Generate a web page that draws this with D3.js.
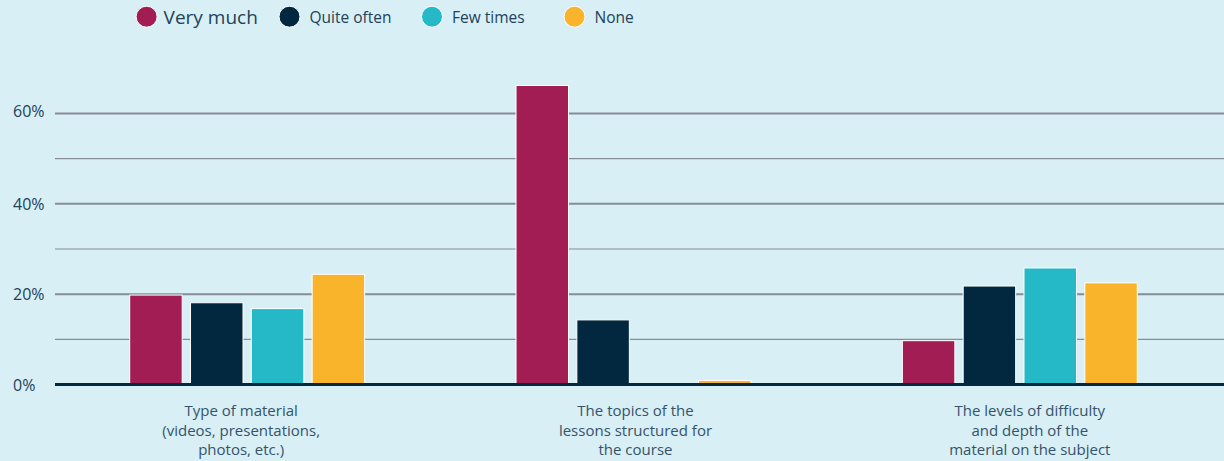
<!DOCTYPE html>
<html><head><meta charset="utf-8">
<script src="https://cdn.jsdelivr.net/npm/d3@7"></script>
<style>
html,body{margin:0;padding:0;background:#d8eff6;}
svg{display:block;font-family:"Open Sans","Lato",sans-serif;}
</style></head>
<body><svg id="c" width="1224" height="461"></svg>
<script>
const categories = [
  ["Type of material","(videos, presentations,","photos, etc.)"],
  ["The topics of the","lessons structured for","the course"],
  ["The levels of difficulty","and depth of the","material on the subject"]
];
const seriesNames = ["Very much","Quite often","Few times","None"];
const seriesColors = ["#a21d54","#02283f","#25b9c7","#f9b42c"];
const veryMuch   = [19.8, 66.2, 9.7];
const quiteOften = [18.1, 14.3, 21.8];
const fewTimes   = [16.8, 0, 25.8];
const none       = [24.4, 0.9, 22.5];
const yTicks = [0, 20, 40, 60];
const yMinor = [10, 30, 50];

const series = [veryMuch, quiteOften, fewTimes, none];
const svg = d3.select("#c");
const left = 55, right = 1224;
const y = d3.scaleLinear().domain([0, 60]).range([384.5, 113.5]);

const catIdx = categories.map((d,i)=>i);
const xBars = d3.scaleBand().domain(catIdx).range([54, 1213]);
const xLabels = d3.scaleBand().domain(catIdx).range([44, 1227]);
const inner = d3.scaleBand().domain(d3.range(4)).range([0, 243.2]).paddingInner(0.137).paddingOuter(0.068);

// gridlines
svg.append("g").selectAll("line").data(yMinor).join("line")
  .attr("x1", left).attr("x2", right)
  .attr("y1", d=>y(d)).attr("y2", d=>y(d))
  .attr("stroke", "#878c99").attr("stroke-width", 1.2);
svg.append("g").selectAll("line").data(yTicks.filter(d=>d>0)).join("line")
  .attr("x1", left).attr("x2", right)
  .attr("y1", d=>y(d)).attr("y2", d=>y(d))
  .attr("stroke", "#878c99").attr("stroke-width", 2);

// y tick labels
svg.append("g").selectAll("text").data(yTicks).join("text")
  .attr("x", 13).attr("y", d=>y(d) - (d===60?3:0))
  .attr("dominant-baseline","central")
  .attr("font-size", 16).attr("fill", "#23415a")
  .text(d=>d+"%");

// bars
const g = svg.append("g");
categories.forEach((c, ci) => {
  const gx = xBars(ci) + xBars.bandwidth()/2 - 243.2/2;
  series.forEach((s, si) => {
    const v = s[ci];
    if (v <= 0) return;
    g.append("rect")
      .attr("x", gx + inner(si))
      .attr("y", y(v))
      .attr("width", inner.bandwidth())
      .attr("height", y(0) - y(v))
      .attr("fill", seriesColors[si])
      .attr("stroke", "#ffffff").attr("stroke-width", 1);
  });
});

// baseline
svg.append("line").attr("x1", left).attr("x2", right)
  .attr("y1", y(0)).attr("y2", y(0))
  .attr("stroke", "#02283f").attr("stroke-width", 3.2);

// category labels
const lab = svg.append("g");
categories.forEach((lines, ci) => {
  const t = lab.append("text")
    .attr("text-anchor","middle")
    .attr("font-size", 15).attr("fill", "#35536a");
  lines.forEach((ln, li) => {
    t.append("tspan").attr("x", xLabels(ci) + xLabels.bandwidth()/2)
      .attr("y", 416 + li*19.5).text(ln);
  });
});

// legend
const legX = [146.6, 289.5, 432, 574.5];
const leg = svg.append("g");
seriesNames.forEach((n, i) => {
  leg.append("circle").attr("cx", legX[i]).attr("cy", 16.7).attr("r", 10.5)
    .attr("fill", seriesColors[i]).attr("stroke","#ffffff").attr("stroke-width",1);
  leg.append("text").attr("x", legX[i] + (i===0?17:20)).attr("y", 17)
    .attr("dominant-baseline","central")
    .attr("font-size", i===0 ? 19 : 15.5).attr("fill", "#23415a")
    .text(n);
});
</script>
</body></html>
